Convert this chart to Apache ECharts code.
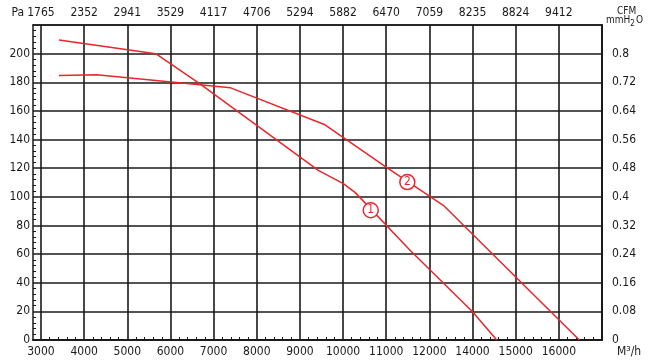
<!DOCTYPE html>
<html><head><meta charset="utf-8">
<script src="https://cdn.jsdelivr.net/npm/echarts@6/dist/echarts.min.js"></script>
<style>html,body{margin:0;padding:0;background:#fff}#c{width:650px;height:361px}</style>
</head><body><div id="c"></div>
<script>
// Grid positions on the flow axis (m³/h scale used for plotting)
const flowTicks = [3000,4000,5000,6000,7000,8000,9000,10000,11000,12000,13000,14000,15000,16000];
// Labels as printed on the chart (bottom: m³/h, top: CFM)
const bottomLabels = ['3000','4000','5000','6000','7000','8000','9000','10000','11000','12000','14000','15000','16000',''];
const topLabels = ['1765','2352','2941','3529','4117','4706','5294','5882','6470','7059','8235','8824','9412',''];
const rightLabels = ['0','0.08','0.16','0.24','0.32','0.4','0.48','0.56','0.64','0.72','0.8',''];
// Curve data [flow, Pa]
const curve1 = [[3417,209.6],[5658,200],[6685,178.9],[9426,118.5],[10006,109.2],[10277,103.1],[11552,62.7],[13000,19.7],[13561,0]];
const curve2 = [[3417,184.7],[4290,185.2],[7396,176.1],[9582,150.3],[11049,119.7],[12323,94.1],[15475,0]];
// Curve tag positions [flow, Pa]
const tag1 = [10641,90.6];
const tag2 = [11489,110.3];

const minorFlow = [];
for (let v = 3000; v <= 16000; v += 200) if (v % 1000) minorFlow.push(v);

const FONT = '"Liberation Sans Narrow","DejaVu Sans Condensed",sans-serif';
const RED = '#e8262b';
const INK = '#1a1a1a';
const lbl = {color: INK, fontFamily: FONT, fontSize: 12};
const XMIN = 2815, XMAX = 16000;

const chart = echarts.init(document.getElementById('c'), null, {renderer: 'canvas'});
function tag(coord, text) {
  return {coord: coord, value: text};
}
const tagStyle = {
  symbol: 'circle', symbolSize: 15, z: 20,
  itemStyle: {color: '#fff', borderColor: RED, borderWidth: 1.5},
  label: {show: true, position: 'inside', color: RED, fontFamily: FONT, fontSize: 12, formatter: p => p.value}
};
chart.setOption({
  animation: false,
  backgroundColor: '#fff',
  title: [
    {text: 'CFM', left: 617, top: 6, padding: 0,
     textStyle: {fontFamily: FONT, fontSize: 10, lineHeight: 10, color: INK, fontWeight: 'normal'}},
    {text: '{a|mmH}{s|2}{g|O}', right: 7, top: 15, padding: 0,
     textStyle: {fontFamily: FONT, fontSize: 10, lineHeight: 10, color: INK, fontWeight: 'normal',
       rich: {a: {color: INK, fontFamily: FONT, fontSize: 10, lineHeight: 10, verticalAlign: 'top'},
              g: {color: INK, fontFamily: FONT, fontSize: 10, lineHeight: 10, verticalAlign: 'top', padding: [0,0,0,1]},
              s: {color: INK, fontFamily: FONT, fontSize: 8, lineHeight: 8, padding: [5,0,0,0], verticalAlign: 'top'}}}}
  ],
  grid: {left: 33, right: 48, top: 25, bottom: 21, containLabel: false, outerBoundsMode: 'none'},
  xAxis: [
    {type: 'value', position: 'bottom', min: XMIN, max: XMAX,
     axisLine: {show: true, onZero: false, lineStyle: {color: INK, width: 2}},
     axisTick: {show: false, customValues: flowTicks},
     axisLabel: Object.assign({customValues: flowTicks, margin: 6,
       formatter: v => bottomLabels[flowTicks.indexOf(v)] || ''}, lbl),
     splitLine: {show: true, lineStyle: {color: INK, width: 1.6}},
     name: 'M³/h', nameLocation: 'end', nameGap: 15, nameMoveOverlap: false,
     nameTextStyle: Object.assign({verticalAlign: 'top', align: 'left', padding: [6,0,0,0]}, lbl)},
    {type: 'value', position: 'bottom', min: XMIN, max: XMAX,
     axisLine: {show: false, onZero: false},
     axisTick: {show: true, inside: true, length: 3, customValues: minorFlow, lineStyle: {color: INK, width: 1}},
     axisLabel: {show: false}, splitLine: {show: false}},
    {type: 'value', position: 'top', min: XMIN, max: XMAX,
     axisLine: {show: true, onZero: false, lineStyle: {color: INK, width: 1.6}},
     axisTick: {show: false, customValues: flowTicks},
     axisLabel: Object.assign({customValues: flowTicks, margin: 6,
       formatter: v => topLabels[flowTicks.indexOf(v)] || ''}, lbl),
     splitLine: {show: false}}
  ],
  yAxis: [
    {type: 'value', position: 'left', min: 0, max: 220, interval: 20,
     axisLine: {show: true, onZero: false, lineStyle: {color: INK, width: 1.5}},
     axisTick: {show: false, inside: true},
     minorTick: {show: true, splitNumber: 5, length: 3, lineStyle: {color: INK, width: 1}},
     axisLabel: Object.assign({margin: 3, showMaxLabel: false}, lbl),
     splitLine: {show: true, lineStyle: {color: INK, width: 1.6}},
     name: 'Pa', nameLocation: 'end', nameGap: 6, nameMoveOverlap: false,
     nameTextStyle: Object.assign({align: 'right', verticalAlign: 'bottom', padding: [0,9,0,0]}, lbl)},
    {type: 'value', position: 'right', min: 0, max: 0.88, interval: 0.08,
     axisLine: {show: true, onZero: false, lineStyle: {color: INK, width: 2}},
     axisTick: {show: false},
     axisLabel: Object.assign({margin: 10, showMaxLabel: false,
       formatter: v => rightLabels[Math.round(v / 0.08)] || ''}, lbl),
     splitLine: {show: false}}
  ],
  series: [
    {type: 'line', data: curve1, symbol: 'none', lineStyle: {color: RED, width: 1.5}, z: 2,
     markPoint: Object.assign({data: [tag(tag1, '1')]}, tagStyle)},
    {type: 'line', data: curve2, symbol: 'none', lineStyle: {color: RED, width: 1.5}, z: 2,
     markPoint: Object.assign({data: [tag(tag2, '2')]}, tagStyle)}
  ]
});
</script></body></html>
